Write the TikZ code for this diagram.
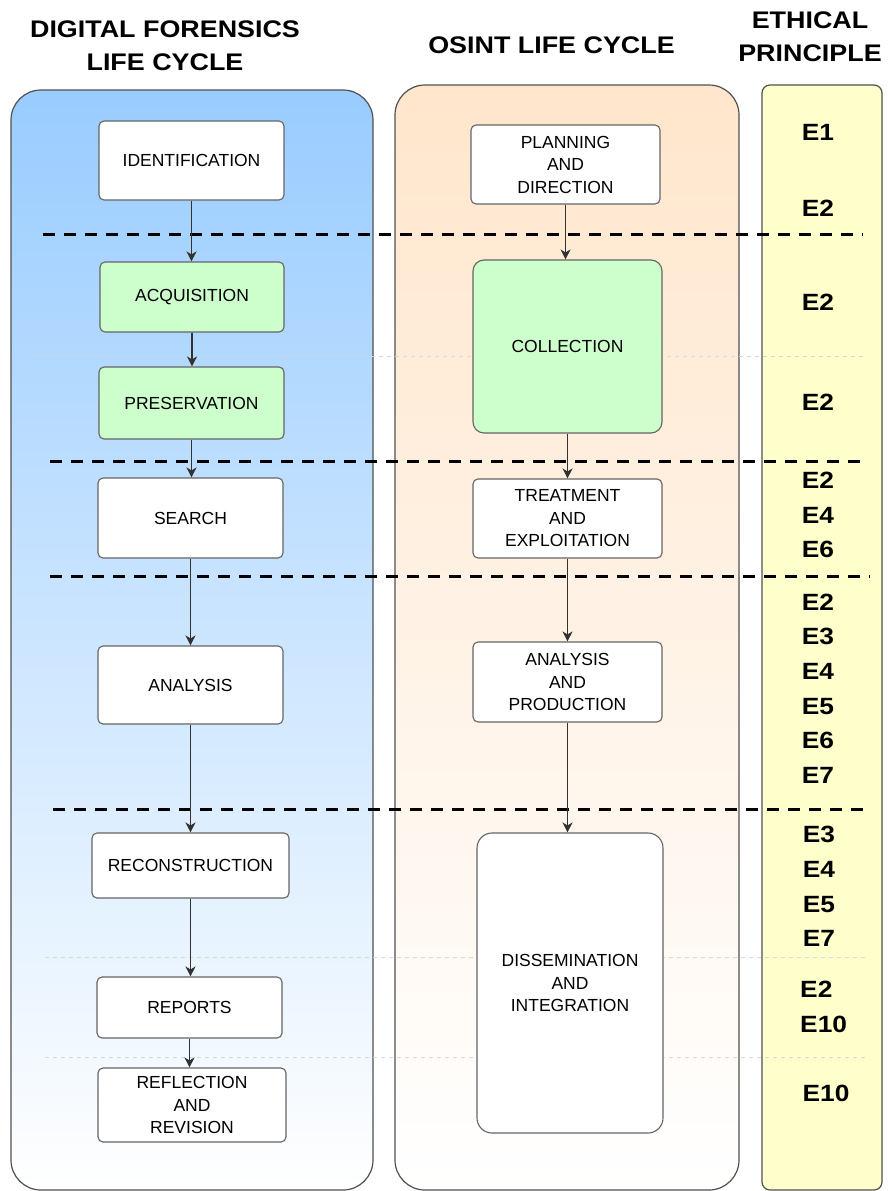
\documentclass[tikz,border=0pt]{standalone}
\usepackage{fontspec}
\setmainfont{Liberation Sans}
\newfontfamily\headfont{Liberation Sans}[FakeStretch=1.12]
\usetikzlibrary{arrows.meta}

\definecolor{dfblue}{RGB}{153,204,255}
\definecolor{ospeach}{RGB}{255,230,204}
\definecolor{ethyellow}{RGB}{255,255,204}
\definecolor{stagegreen}{RGB}{204,255,204}
\definecolor{framegray}{RGB}{80,80,80}
\definecolor{boxgray}{RGB}{100,100,100}
\definecolor{flowgray}{RGB}{50,50,50}
\definecolor{faintgray}{RGB}{215,215,215}

\begin{document}
\begin{tikzpicture}[x=1pt,y=-1pt,
  heading/.style={font=\headfont\bfseries\fontsize{24}{33}\selectfont, align=center, inner sep=0pt},
  principle/.style={font=\headfont\bfseries\fontsize{23.5}{34.6}\selectfont, align=center, inner sep=0pt},
  stage/.style={draw=boxgray, line width=1.1pt, rounded corners=5pt, fill=white, inner sep=0pt,
    align=center, font=\fontsize{17.5}{22.5}\selectfont},
  greenstage/.style={stage, fill=stagegreen},
  flow/.style={draw=flowgray, line width=1.1pt, -{Stealth[length=10pt, width=10pt, inset=3pt]}},
  phaseline/.style={draw=black, line width=3pt, dash pattern=on 12pt off 9pt},
  faintline/.style={draw=faintgray, line width=1pt, dash pattern=on 4pt off 4pt},
  lane/.style={draw=framegray, line width=1.2pt}
]
\useasboundingbox (0,0) rectangle (887,1191);

% column headings
\node[heading] (dfhead) at (165,46) {DIGITAL FORENSICS\\LIFE CYCLE};
\node[heading] (oshead) at (551.5,45) {OSINT LIFE CYCLE};
\node[heading] (ethead) at (810,37) {ETHICAL\\PRINCIPLE};

% lanes
\path[lane, rounded corners=30pt, top color=dfblue, bottom color=white] (11,90) rectangle (373,1190);
\path[lane, rounded corners=30pt, top color=ospeach, bottom color=white] (395,85) rectangle (739,1190);
\path[lane, rounded corners=8pt, fill=ethyellow] (762,85) rectangle (882,1190);

% faint separators between sub-phases
\draw[faintline] (35,356) -- (865,356);
\draw[faintline] (45,957) -- (865,957);
\draw[faintline] (45,1057) -- (865,1057);

% phase separators
\draw[phaseline] (43,234) -- (863,234);
\draw[phaseline] (50,461) -- (863,461);
\draw[phaseline] (50,576) -- (870,576);
\draw[phaseline] (53,809) -- (863,809);

% digital forensics stages
\node[stage, minimum width=185pt, minimum height=79pt] (ident) at (191.5,160.5) {IDENTIFICATION};
\node[greenstage, minimum width=184pt, minimum height=70pt] (acq) at (192,297) {ACQUISITION};
\node[greenstage, minimum width=185pt, minimum height=72pt] (pres) at (191.5,403) {PRESERVATION};
\node[stage, minimum width=185pt, minimum height=80pt] (search) at (190.5,518) {SEARCH};
\node[stage, minimum width=185pt, minimum height=78pt] (dfanal) at (190.5,685) {ANALYSIS};
\node[stage, minimum width=197pt, minimum height=65pt] (recon) at (190.5,865.5) {RECONSTRUCTION};
\node[stage, minimum width=185pt, minimum height=61pt] (reports) at (189.5,1007.5) {REPORTS};
\node[stage, minimum width=188pt, minimum height=74pt] (reflect) at (192,1105) {REFLECTION\\AND\\REVISION};

% OSINT stages
\node[stage, minimum width=189pt, minimum height=79pt] (plan) at (565.5,164.5) {PLANNING\\AND\\DIRECTION};
\node[greenstage, rounded corners=11pt, minimum width=189pt, minimum height=173pt] (coll) at (567.5,346.5) {COLLECTION};
\node[stage, minimum width=189pt, minimum height=79pt] (treat) at (567.5,518.5) {TREATMENT\\AND\\EXPLOITATION};
\node[stage, minimum width=189pt, minimum height=80pt] (prod) at (567.5,682) {ANALYSIS\\AND\\PRODUCTION};
\node[stage, rounded corners=15pt, minimum width=186pt, minimum height=300pt] (dissem) at (570,983) {DISSEMINATION\\AND\\INTEGRATION};

% flow of the digital forensics cycle
\draw[flow] (ident.south) -- (ident.south |- acq.north);
\draw[flow] (acq.south) -- (acq.south |- pres.north);
\draw[flow] (pres.south) -- (pres.south |- search.north);
\draw[flow] (search.south) -- (search.south |- dfanal.north);
\draw[flow] (dfanal.south) -- (dfanal.south |- recon.north);
\draw[flow] (recon.south) -- (recon.south |- reports.north);
\draw[flow] (reports.south) -- (reports.south |- reflect.north);

% flow of the OSINT cycle
\draw[flow] (plan.south) -- (plan.south |- coll.north);
\draw[flow] (coll.south) -- (coll.south |- treat.north);
\draw[flow] (treat.south) -- (treat.south |- prod.north);
\draw[flow] (prod.south) -- (prod.south |- dissem.north);

% ethical principles per phase
\node[principle] (pa) at (818,132) {E1};
\node[principle] (pb) at (818,208) {E2};
\node[principle] (pc) at (818,302) {E2};
\node[principle] (pd) at (818,402) {E2};
\node[principle] (pe) at (818,515) {E2\\E4\\E6};
\node[principle] (pf) at (818,688.5) {E2\\E3\\E4\\E5\\E6\\E7};
\node[principle] (pg) at (819,886.5) {E3\\E4\\E5\\E7};
\node[principle, align=left, anchor=west] (ph) at (800,1007) {E2\\E10};
\node[principle] (pi) at (826,1093) {E10};
\end{tikzpicture}
\end{document}
